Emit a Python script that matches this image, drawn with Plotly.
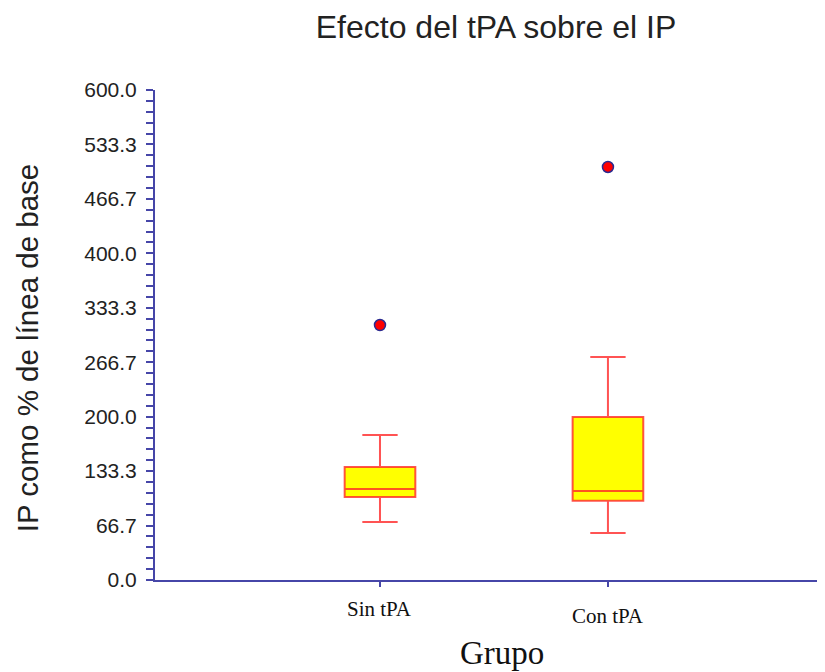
import plotly.graph_objects as go

# Data
groups = ["Sin tPA", "Con tPA"]
group_pos = [0, 1]
q1 = [101.6, 97.0]
median = [111.4, 109.0]
q3 = [138.4, 199.6]
lower_fence = [71.0, 57.5]
upper_fence = [177.6, 273.1]
outliers = [312.2, 505.7]
y_tick_vals = [0, 600/9, 1200/9, 200, 2400/9, 3000/9, 400, 4200/9, 4800/9, 600]
y_tick_text = ["0.0", "66.7", "133.3", "200.0", "266.7", "333.3", "400.0", "466.7", "533.3", "600.0"]
label_offsets = [-0.059, -0.073]

AX = "#4646a8"

fig = go.Figure()
for i, g in enumerate(groups):
    fig.add_trace(go.Box(
        x=[group_pos[i]], q1=[q1[i]], median=[median[i]], q3=[q3[i]],
        lowerfence=[lower_fence[i]], upperfence=[upper_fence[i]],
        width=0.31, whiskerwidth=0.5, fillcolor="#ffff00",
        line=dict(color="rgba(255,40,40,0.8)", width=2),
        boxpoints=False, name=g, showlegend=False, hoverinfo="skip"))

fig.add_trace(go.Scatter(
    x=group_pos, y=outliers, mode="markers",
    marker=dict(symbol="circle", size=11, color="#ff0000",
                line=dict(color="#2a2a90", width=1.5)),
    showlegend=False))

for i, g in enumerate(groups):
    fig.add_annotation(x=group_pos[i], xref="x", y=label_offsets[i], yref="paper",
                       text=g, showarrow=False, xanchor="center", yanchor="middle",
                       font=dict(family="Liberation Serif", size=21, color="#111"))

fig.add_annotation(x=(502-155)/667, xref="paper", y=-0.149, yref="paper", text="Grupo",
                   showarrow=False, xanchor="center", yanchor="middle",
                   font=dict(family="Liberation Serif", size=33, color="#111"))

fig.add_annotation(x=(27-155)/667, xref="paper", y=0.473, yref="paper",
                   text="IP como % de línea de base", textangle=-90, showarrow=False,
                   xanchor="center", yanchor="middle",
                   font=dict(family="Liberation Sans", size=29.5, color="#222"))

fig.update_layout(
    width=817, height=664,
    margin=dict(l=147, r=3, t=82, b=92),
    plot_bgcolor="white", paper_bgcolor="white",
    title=dict(text="Efecto del tPA sobre el IP", x=488/817, xanchor="center",
               y=1-19/664, yanchor="middle",
               font=dict(family="Liberation Sans", size=32, color="#222")),
    xaxis=dict(range=[-0.987, 1.939], tickvals=group_pos, ticktext=["", ""],
               showgrid=False, zeroline=False, showline=True, linecolor=AX, linewidth=2,
               ticks="outside", ticklen=5, tickwidth=2, tickcolor=AX),
    yaxis=dict(range=[0, 600], tickvals=y_tick_vals, ticktext=y_tick_text,
               showgrid=False, zeroline=False, showline=True, linecolor=AX, linewidth=2,
               ticks="outside", ticklen=7, tickwidth=2, tickcolor=AX,
               ticklabelstandoff=5,
               tickfont=dict(family="Liberation Sans", size=21, color="#222"),
               minor=dict(tick0=0, dtick=600/45, ticks="outside", ticklen=7,
                          tickwidth=2, tickcolor=AX, showgrid=False)),
)

fig.write_html("out.html")
